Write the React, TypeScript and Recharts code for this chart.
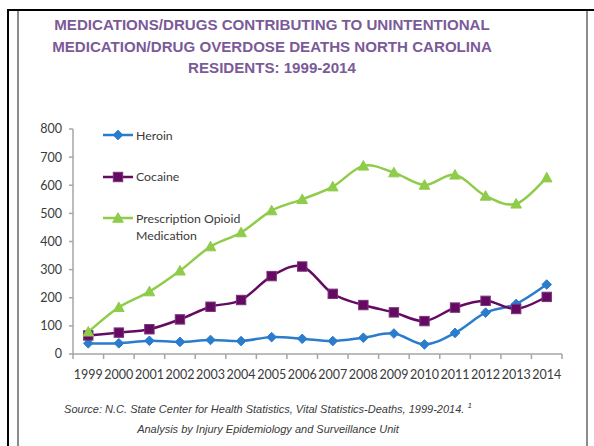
import { Line, LineChart, XAxis, YAxis, Legend } from 'recharts';

const years = ['1999', '2000', '2001', '2002', '2003', '2004', '2005', '2006', '2007', '2008', '2009', '2010', '2011', '2012', '2013', '2014'];
const heroin = [38, 38, 47, 43, 50, 46, 60, 54, 46, 58, 73, 34, 75, 147, 178, 247];
const cocaine = [66, 76, 88, 123, 168, 192, 277, 311, 214, 174, 148, 117, 165, 189, 160, 203];
const opioid = [79, 166, 222, 296, 382, 432, 510, 550, 595, 669, 645, 601, 637, 562, 534, 627];
const yTicks = [0, 100, 200, 300, 400, 500, 600, 700, 800];

const data = years.map((year, i) => ({
  year,
  heroin: heroin[i],
  cocaine: cocaine[i],
  opioid: opioid[i],
}));

const W = 594;
const H = 446;
const PLOT_LEFT = 73;
const PLOT_RIGHT = 562;
const PLOT_TOP = 129;
const PLOT_BOTTOM = 354;
const BAND = (PLOT_RIGHT - PLOT_LEFT) / years.length;

const BLUE = '#2a7ccc';
const PURPLE = '#650a62';
const GREEN = '#8fcc4a';
const AXIS = '#a6a6a6';
const TEXT = '#3a3a3a';
const FONT = 'Lato, "Open Sans", sans-serif';

// Excel-style smoothing (cardinal spline, tension 0)
function smoothCurve(context: any) {
  let pts: number[][] = [];
  return {
    areaStart() {},
    areaEnd() {},
    lineStart() {
      pts = [];
    },
    lineEnd() {
      if (!pts.length) return;
      context.moveTo(pts[0][0], pts[0][1]);
      for (let i = 0; i < pts.length - 1; i++) {
        const p0 = pts[i - 1] || pts[i];
        const p1 = pts[i];
        const p2 = pts[i + 1];
        const p3 = pts[i + 2] || p2;
        context.bezierCurveTo(
          p1[0] + (p2[0] - p0[0]) / 6,
          p1[1] + (p2[1] - p0[1]) / 6,
          p2[0] - (p3[0] - p1[0]) / 6,
          p2[1] - (p3[1] - p1[1]) / 6,
          p2[0],
          p2[1]
        );
      }
    },
    point(x: number, y: number) {
      pts.push([+x, +y]);
    },
  };
}

function Marker({ kind, cx, cy }: { kind: string; cx: number; cy: number }) {
  if (kind === 'heroin') {
    const r = 4.8;
    return <polygon points={`${cx},${cy - r} ${cx + r},${cy} ${cx},${cy + r} ${cx - r},${cy}`} fill={BLUE} stroke={BLUE} strokeWidth={1} />;
  }
  if (kind === 'cocaine') {
    const s = 4.7;
    return <rect x={cx - s} y={cy - s} width={s * 2} height={s * 2} fill={PURPLE} stroke="#7a3478" strokeWidth={1} />;
  }
  const r = 5.3;
  return <polygon points={`${cx},${cy - r} ${cx + r},${cy + r * 0.8} ${cx - r},${cy + r * 0.8}`} fill={GREEN} stroke={GREEN} strokeWidth={1} />;
}

const dotFor = (kind: string) => (props: any) => {
  if (props.cx == null || props.cy == null) return <g key={props.key} />;
  return <Marker key={props.key} kind={kind} cx={props.cx} cy={props.cy} />;
};

const series = [
  { key: 'heroin', name: 'Heroin', color: BLUE },
  { key: 'cocaine', name: 'Cocaine', color: PURPLE },
  { key: 'opioid', name: 'Prescription Opioid Medication', color: GREEN },
];

function LegendBox() {
  return (
    <div style={{ position: 'relative', width: 180, height: 120, fontFamily: FONT, fontSize: 12.3, color: TEXT, textAlign: 'left' }}>
      {series.map((s, i) => (
        <div key={s.key} style={{ position: 'absolute', left: 0, top: i * 41.5, display: 'flex', alignItems: 'flex-start' }}>
          <svg width={30} height={16} style={{ flex: 'none' }}>
            <line x1={0} y1={8} x2={30} y2={8} stroke={s.color} strokeWidth={2.5} />
            <Marker kind={s.key} cx={15} cy={8} />
          </svg>
          <div style={{ marginLeft: 3, lineHeight: '17px', marginTop: -0.5, width: 130 }}>
            {s.key === 'opioid' ? (
              <>
                Prescription Opioid
                <br />
                Medication
              </>
            ) : (
              s.name
            )}
          </div>
        </div>
      ))}
    </div>
  );
}

function XTick(props: any) {
  const { x, payload, index } = props;
  return (
    <g>
      <line x1={x - BAND / 2} y1={PLOT_BOTTOM} x2={x - BAND / 2} y2={PLOT_BOTTOM + 5} stroke={AXIS} strokeWidth={1.5} />
      {index === years.length - 1 && (
        <line x1={x + BAND / 2} y1={PLOT_BOTTOM} x2={x + BAND / 2} y2={PLOT_BOTTOM + 5} stroke={AXIS} strokeWidth={1.5} />
      )}
      <text x={x} y={PLOT_BOTTOM + 25} textAnchor="middle" fontFamily={FONT} fontSize={12.5} fill={TEXT}>
        {payload.value}
      </text>
    </g>
  );
}

export default function App() {
  return (
    <div style={{ position: 'relative', width: W, height: H, background: '#fff', overflow: 'hidden' }}>
      <style>{'body{margin:0}'}</style>
      {/* frame */}
      <div style={{ position: 'absolute', left: 7, top: 9, width: W - 7, height: 2, background: '#000' }} />
      <div style={{ position: 'absolute', left: 7, top: 9, width: 2, height: H - 9, background: '#000' }} />
      <div style={{ position: 'absolute', left: 16.5, top: 11, width: 2, height: H - 11, background: '#8c8c8c' }} />
      <div style={{ position: 'absolute', left: 586, top: 11, width: 2, height: H - 11, background: '#8c8c8c' }} />

      <div
        style={{
          position: 'absolute',
          left: 0,
          top: 14,
          width: 544,
          textAlign: 'center',
          fontFamily: '"Liberation Sans", Arial, sans-serif',
          fontWeight: 'bold',
          fontSize: 15.1,
          lineHeight: '21.5px',
          color: '#7b5a98',
        }}
      >
        MEDICATIONS/DRUGS CONTRIBUTING TO UNINTENTIONAL
        <br />
        MEDICATION/DRUG OVERDOSE DEATHS NORTH CAROLINA
        <br />
        RESIDENTS: 1999-2014
      </div>

      <div style={{ position: 'absolute', left: 0, top: 0 }}>
        <LineChart width={W} height={H} data={data} margin={{ top: PLOT_TOP, right: W - PLOT_RIGHT, bottom: 0, left: 0 }}>
          <XAxis
            dataKey="year"
            height={H - PLOT_BOTTOM}
            padding={{ left: BAND / 2, right: BAND / 2 }}
            tickLine={false}
            axisLine={{ stroke: AXIS, strokeWidth: 1.5 }}
            tick={<XTick />}
            interval={0}
          />
          <YAxis
            width={PLOT_LEFT}
            domain={[0, 800]}
            ticks={yTicks}
            tickSize={4}
            tickMargin={7}
            tickLine={{ stroke: AXIS, strokeWidth: 1.5 }}
            axisLine={{ stroke: AXIS, strokeWidth: 1.5 }}
            tick={{ fontFamily: FONT, fontSize: 12.5, fill: TEXT }}
            interval={0}
          />
          <Legend
            layout="horizontal"
            verticalAlign="middle"
            align="center"
            wrapperStyle={{ position: 'absolute', left: 103, top: 127, width: 180, height: 120 }}
            content={() => <LegendBox />}
          />
          {series.map((s) => (
            <Line
              key={s.key}
              dataKey={s.key}
              name={s.name}
              type={smoothCurve as any}
              stroke={s.color}
              strokeWidth={2.5}
              dot={dotFor(s.key)}
              activeDot={false}
              isAnimationActive={false}
            />
          ))}
        </LineChart>
      </div>

      <div
        style={{
          position: 'absolute',
          left: 0,
          top: 396,
          width: 536,
          textAlign: 'center',
          fontFamily: '"Liberation Sans", Arial, sans-serif',
          fontStyle: 'italic',
          fontSize: 11,
          lineHeight: '20px',
          color: '#3a3a3a',
        }}
      >
        Source: N.C. State Center for Health Statistics, Vital Statistics-Deaths, 1999-2014. <sup style={{ fontSize: 8 }}>1</sup>
        <br />
        Analysis by Injury Epidemiology and Surveillance Unit
      </div>
    </div>
  );
}
